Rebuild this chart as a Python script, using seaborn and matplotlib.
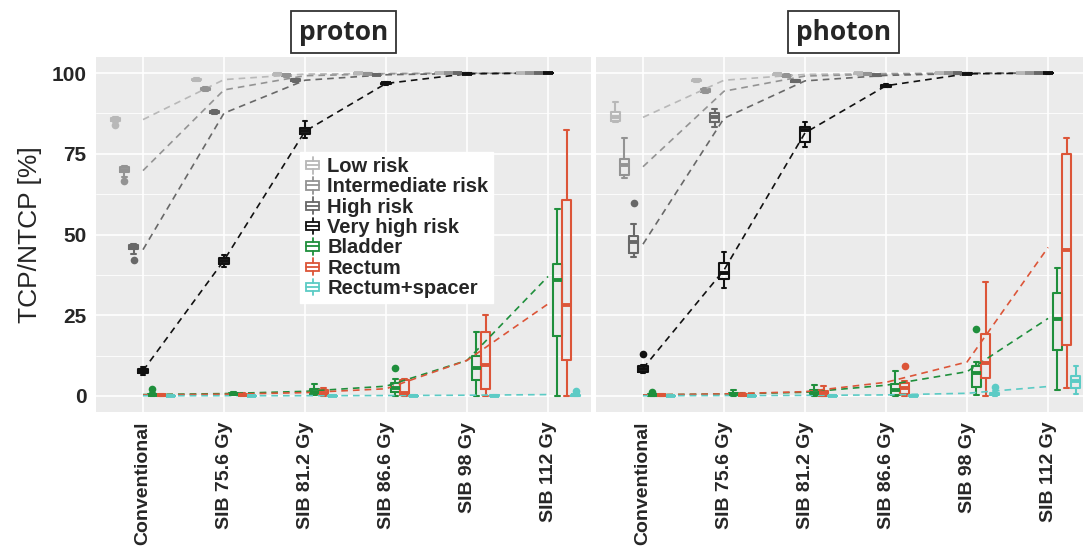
import matplotlib
matplotlib.use("Agg")
import matplotlib.pyplot as plt
import pandas as pd
import seaborn as sns
from matplotlib.legend_handler import HandlerBase
from matplotlib.lines import Line2D
from matplotlib.patches import Patch, Rectangle
from matplotlib.ticker import MultipleLocator

# x categories and groups
x_labels = ["Conventional", "SIB 75.6 Gy", "SIB 81.2 Gy", "SIB 86.6 Gy", "SIB 98 Gy", "SIB 112 Gy"]
groups = ["Low risk", "Intermediate risk", "High risk", "Very high risk", "Bladder", "Rectum", "Rectum+spacer"]
colors = ["#b8b8b8", "#939393", "#686868", "#111111", "#1f8f3c", "#dc5538", "#5ccbc5"]

# box summaries [low whisker, q1, median, q3, high whisker] per x category
# --- proton ---
proton_low = [[84.8, 85.2, 85.8, 86.2, 86.5], [97.5, 97.8, 98.0, 98.2, 98.4], [99.3, 99.5, 99.7, 99.8, 99.9],
              [99.8, 99.9, 99.95, 100, 100], [99.95, 99.98, 100, 100, 100], [100, 100, 100, 100, 100]]
proton_inter = [[67.8, 69.3, 70.1, 70.8, 71.2], [94.6, 94.9, 95.2, 95.5, 95.7], [98.9, 99.1, 99.3, 99.5, 99.6],
                [99.6, 99.7, 99.8, 99.9, 99.95], [99.9, 99.95, 100, 100, 100], [100, 100, 100, 100, 100]]
proton_high = [[44.0, 45.4, 46.0, 46.6, 47.0], [87.3, 87.6, 88.0, 88.3, 88.6], [97.4, 97.6, 97.9, 98.1, 98.3],
               [99.3, 99.4, 99.55, 99.7, 99.8], [99.85, 99.9, 99.95, 100, 100], [100, 100, 100, 100, 100]]
proton_vhigh = [[6.6, 7.1, 7.7, 8.3, 8.8], [39.8, 40.8, 41.9, 42.8, 43.8], [79.8, 81.2, 82.2, 83.0, 85.2],
                [96.3, 96.6, 96.8, 97.0, 97.2], [99.7, 99.8, 99.85, 99.9, 99.95], [99.95, 100, 100, 100, 100]]
proton_bladder = [[0, 0.2, 0.3, 0.5, 0.8], [0.2, 0.5, 0.7, 0.9, 1.3], [0.2, 0.6, 1.2, 2.1, 3.7],
                  [0, 1.1, 2.4, 4.1, 5.3], [0, 5.0, 8.6, 12.2, 19.9], [0, 18.5, 36.0, 41.0, 58.0]]
proton_rectum = [[0, 0.1, 0.2, 0.4, 0.6], [0, 0.2, 0.4, 0.6, 0.9], [0, 0.3, 0.9, 1.7, 2.5],
                 [0, 0.3, 1.0, 4.9, 5.3], [0, 2.1, 9.6, 19.9, 25.0], [0, 11.1, 28.2, 60.7, 82.5]]
proton_spacer = [[0, 0, 0.05, 0.1, 0.2], [0, 0, 0.05, 0.1, 0.2], [0, 0, 0.05, 0.1, 0.2],
                 [0, 0.02, 0.05, 0.1, 0.2], [0, 0.05, 0.1, 0.2, 0.4], [0, 0.1, 0.2, 0.4, 0.7]]

# --- photon ---
photon_low = [[84.8, 85.2, 86.5, 88.0, 91.1], [97.4, 97.6, 97.8, 98.0, 98.2], [99.4, 99.5, 99.7, 99.8, 99.9],
              [99.8, 99.85, 99.9, 99.95, 100], [99.9, 99.95, 100, 100, 100], [100, 100, 100, 100, 100]]
photon_inter = [[67.6, 68.4, 71.5, 73.3, 80.0], [93.8, 94.1, 94.5, 95.0, 95.4], [98.8, 99.0, 99.2, 99.4, 99.6],
                [99.5, 99.6, 99.7, 99.8, 99.9], [99.9, 99.95, 100, 100, 100], [100, 100, 100, 100, 100]]
photon_high = [[43.0, 44.3, 47.7, 49.5, 53.2], [83.4, 85.0, 86.3, 87.7, 88.9], [97.2, 97.4, 97.6, 97.8, 98.0],
               [99.0, 99.1, 99.3, 99.4, 99.5], [99.8, 99.85, 99.9, 99.95, 100], [100, 100, 100, 100, 100]]
photon_vhigh = [[7.2, 7.4, 8.3, 9.3, 9.6], [33.3, 36.1, 38.0, 41.3, 44.7], [77.2, 78.8, 82.3, 83.2, 84.9],
                [95.6, 95.8, 96.1, 96.4, 96.6], [99.6, 99.7, 99.8, 99.9, 99.95], [99.8, 99.9, 100, 100, 100]]
photon_bladder = [[0, 0.1, 0.3, 0.5, 0.8], [0, 0.3, 0.6, 0.9, 1.9], [0.1, 0.3, 1.0, 1.9, 3.4],
                  [0.1, 0.3, 1.9, 3.6, 7.8], [0.2, 2.7, 7.0, 9.3, 10.6], [1.9, 14.2, 23.8, 31.8, 39.5]]
photon_rectum = [[0, 0.1, 0.2, 0.3, 0.5], [0, 0.2, 0.4, 0.6, 0.9], [0, 0.1, 0.8, 1.6, 3.1],
                 [0, 0.6, 2.4, 3.9, 4.5], [0, 5.5, 10.1, 19.2, 35.4], [2.4, 15.8, 45.2, 74.9, 79.8]]
photon_spacer = [[0, 0, 0.05, 0.1, 0.2], [0, 0, 0.05, 0.1, 0.2], [0, 0, 0.05, 0.1, 0.2],
                 [0, 0.02, 0.1, 0.2, 0.3], [0, 0.3, 0.6, 1.0, 1.4], [0.5, 2.4, 4.5, 6.2, 9.1]]

# mean values (dashed lines) per group
proton_means = [[85.6, 98.0, 99.7, 99.9, 100, 100], [69.8, 94.8, 99.2, 99.8, 100, 100],
                [45.3, 87.6, 97.8, 99.5, 99.9, 100], [7.8, 42.0, 82.0, 96.8, 99.8, 100],
                [0.4, 0.7, 1.4, 3.0, 11.0, 37.0], [0.3, 0.5, 1.0, 2.2, 11.0, 28.5],
                [0.05, 0.05, 0.05, 0.1, 0.2, 0.4]]
photon_means = [[86.3, 97.8, 99.6, 99.9, 100, 100], [71.0, 94.4, 99.1, 99.7, 100, 100],
                [47.0, 86.0, 97.6, 99.3, 99.9, 100], [8.5, 39.0, 81.5, 96.1, 99.8, 100],
                [0.3, 0.6, 1.1, 3.3, 7.5, 24.0], [0.3, 0.6, 1.3, 4.2, 10.5, 46.0],
                [0.05, 0.1, 0.15, 0.3, 0.8, 2.9]]

# outliers: (x category, group, value)
proton_outliers = [("Conventional", "Low risk", 83.9), ("Conventional", "Intermediate risk", 66.6),
                   ("Conventional", "High risk", 42.2), ("Conventional", "Bladder", 2.1),
                   ("SIB 86.6 Gy", "Bladder", 8.6), ("SIB 112 Gy", "Rectum+spacer", 1.5)]
photon_outliers = [("Conventional", "High risk", 59.7), ("Conventional", "Very high risk", 12.9),
                   ("Conventional", "Bladder", 1.3), ("SIB 86.6 Gy", "Rectum", 9.4),
                   ("SIB 98 Gy", "Bladder", 20.6), ("SIB 98 Gy", "Rectum+spacer", 2.7)]


def box_frame(stats_list):
    rows = []
    for g, stats in zip(groups, stats_list):
        for xl, five in zip(x_labels, stats):
            for v in five:
                rows.append({"x": xl, "group": g, "value": v})
    return pd.DataFrame(rows)


def line_frame(means):
    rows = []
    for g, vals in zip(groups, means):
        for xl, v in zip(x_labels, vals):
            rows.append({"x": xl, "group": g, "value": v})
    return pd.DataFrame(rows)


class BoxHandler(HandlerBase):
    def create_artists(self, legend, orig_handle, xdescent, ydescent, width, height, fontsize, trans):
        c = orig_handle.get_edgecolor()
        x0, y0 = -xdescent, -ydescent
        cx = x0 + width / 2
        box = Rectangle((x0 + 0.1 * width, y0 + 0.25 * height), 0.8 * width, 0.5 * height,
                        facecolor="white", edgecolor=c, lw=1.3, transform=trans)
        med = Line2D([x0 + 0.1 * width, x0 + 0.9 * width], [y0 + 0.5 * height] * 2, color=c, lw=1.3, transform=trans)
        w1 = Line2D([cx, cx], [y0, y0 + 0.25 * height], color=c, lw=1.3, transform=trans)
        w2 = Line2D([cx, cx], [y0 + 0.75 * height, y0 + height], color=c, lw=1.3, transform=trans)
        return [box, med, w1, w2]


sns.set_style("darkgrid", {"axes.facecolor": "#ebebeb", "grid.color": "white"})
plt.rcParams["font.family"] = ["Liberation Sans", "DejaVu Sans"]

palette = dict(zip(groups, colors))
fig = plt.figure(figsize=(10.83, 5.51), dpi=100)
W, H = 1083, 551
ax1 = fig.add_axes([96 / W, (H - 412) / H, 495 / W, 355 / H])
ax2 = fig.add_axes([596 / W, (H - 412) / H, 495 / W, 355 / H])

panels = [
    (ax1, "proton", [proton_low, proton_inter, proton_high, proton_vhigh, proton_bladder, proton_rectum, proton_spacer],
     proton_means, proton_outliers),
    (ax2, "photon", [photon_low, photon_inter, photon_high, photon_vhigh, photon_bladder, photon_rectum, photon_spacer],
     photon_means, photon_outliers),
]

for ax, title, stats, means, outliers in panels:
    bdf = box_frame(stats)
    sns.boxplot(data=bdf, x="x", y="value", hue="group", order=x_labels, hue_order=groups,
                palette=palette, width=0.8, gap=0, whis=(0, 100), fill=False, linewidth=1.5,
                medianprops={"linewidth": 2.8}, legend=False, ax=ax)
    for p in ax.patches:
        p.set_fill(True)
        p.set_facecolor("white")

    ldf = line_frame(means)
    sns.lineplot(data=ldf, x="x", y="value", hue="group", hue_order=groups, palette=palette,
                 estimator=None, sort=False, linestyle=(0, (4, 3)), linewidth=1.2, legend=False, ax=ax)

    odf = pd.DataFrame(outliers, columns=["x", "group", "value"])
    sns.stripplot(data=odf, x="x", y="value", hue="group", order=x_labels, hue_order=groups,
                  palette=palette, dodge=True, jitter=False, size=5.5, linewidth=0, legend=False, ax=ax)

    ax.set_xlim(-0.58, 5.53)
    ax.set_ylim(-5, 105)
    ax.set_yticks([0, 25, 50, 75, 100])
    ax.yaxis.set_minor_locator(MultipleLocator(12.5))
    ax.grid(which="major", color="white", linewidth=1.2)
    ax.grid(which="minor", axis="y", color="white", linewidth=0.6)
    ax.set_xticks(range(len(x_labels)))
    ax.set_xticklabels(x_labels, rotation=90, fontsize=14, fontweight="bold", va="top", ha="center")
    ax.tick_params(axis="both", which="major", length=4, color="#333333", width=1, pad=3)
    ax.tick_params(axis="y", which="minor", length=0)
    ax.set_xlabel("")
    ax.set_ylabel("")
    for s in ax.spines.values():
        s.set_visible(False)
    cx = (ax.get_position().x0 + ax.get_position().x1) / 2
    fig.text(cx, 1 - 32 / H, title, fontfamily="Open Sans", fontweight="bold", fontsize=19,
             ha="center", va="center",
             bbox=dict(boxstyle="square,pad=0.3", fc="white", ec="#333333", lw=1.3))

for lab in ax1.get_yticklabels():
    lab.set_fontweight("bold")
    lab.set_fontsize(15)
ax2.tick_params(axis="y", labelleft=False)

fig.text(30 / W, 1 - 234.5 / H, "TCP/NTCP [%]", rotation=90, fontsize=19, ha="center", va="center")

handles = [Patch(edgecolor=c, facecolor="white") for c in colors]
leg = ax1.legend(handles, groups, handler_map={Patch: BoxHandler()}, loc="upper left",
                 bbox_to_anchor=(0.412, 0.733), frameon=True, fancybox=False, framealpha=1,
                 edgecolor="white", facecolor="white", prop={"weight": "bold", "size": 14.5},
                 handlelength=0.75, handleheight=0.9, handletextpad=0.35, labelspacing=0.05,
                 borderpad=0.25, borderaxespad=0)

fig.savefig("out.png", dpi=100)
